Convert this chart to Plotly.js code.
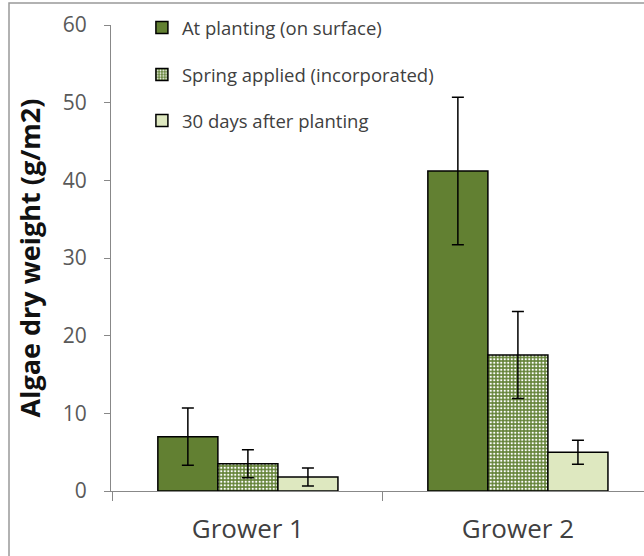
<!DOCTYPE html>
<html>
<head>
<meta charset="utf-8">
<script src="https://cdn.plot.ly/plotly-3.0.1.min.js"></script>
<style>html,body{margin:0;padding:0;background:#fff;}#chart{width:644px;height:556px;}</style>
</head>
<body>
<div id="chart"></div>
<script>
const categories = ["Grower 1", "Grower 2"];
const seriesNames = ["At planting (on surface)", "Spring applied (incorporated)", "30 days after planting"];
const atPlanting = [7.0, 41.2];
const atPlantingErr = [3.7, 9.5];
const springApplied = [3.5, 17.5];
const springAppliedErr = [1.8, 5.6];
const days30 = [1.8, 5.0];
const days30Err = [1.15, 1.55];
const yTicks = [0, 10, 20, 30, 40, 50, 60];

const darkGreen = "rgb(98,128,50)";
const patternGreen = "rgb(100,130,56)";
const lightGreen = "rgb(222,232,192)";
const font = "Open Sans, Noto Sans, sans-serif";

function errBar(arr) {
  return {type: "data", array: arr, visible: true, color: "#000", thickness: 1.5, width: 6};
}

const traces = [
  {type: "bar", name: seriesNames[0], x: categories, y: atPlanting, error_y: errBar(atPlantingErr),
   marker: {color: darkGreen, line: {color: "#000", width: 1.5}}, legend: "legend"},
  {type: "bar", name: seriesNames[1], x: categories, y: springApplied, error_y: errBar(springAppliedErr),
   marker: {color: patternGreen, line: {color: "#000", width: 1.5},
            pattern: {shape: ".", fgcolor: "#ffffff", bgcolor: patternGreen, size: 3.5, solidity: 0.35, fillmode: "replace"}},
   legend: "legend2"},
  {type: "bar", name: seriesNames[2], x: categories, y: days30, error_y: errBar(days30Err),
   marker: {color: lightGreen, line: {color: "#000", width: 1.5}}, legend: "legend3"}
];

const legendBase = {
  x: 0.058, xanchor: "left", yanchor: "middle",
  bgcolor: "rgba(0,0,0,0)", borderwidth: 0,
  font: {family: font, size: 18.5, color: "#404040"},
  itemwidth: 30
};
function py(p) { return (491 - p) / 466; }

const layout = {
  width: 644, height: 556,
  margin: {l: 111, r: 0, t: 25, b: 65},
  paper_bgcolor: "#ffffff", plot_bgcolor: "#ffffff",
  barmode: "group", bargap: 0.333, bargroupgap: 0,
  showlegend: true,
  legend: Object.assign({}, legendBase, {y: py(28)}),
  legend2: Object.assign({}, legendBase, {y: py(75)}),
  legend3: Object.assign({}, legendBase, {y: py(121)}),
  xaxis: {
    type: "category", range: [-0.507, 1.467],
    showline: true, linecolor: "#888", linewidth: 1,
    ticks: "outside", tickson: "boundaries", ticklen: 9, tickcolor: "#888",
    tickfont: {family: font, size: 26, color: "#404040"},
    ticklabelstandoff: 15,
    showgrid: false, zeroline: false
  },
  yaxis: {
    range: [0, 60], tickvals: yTicks,
    showline: true, linecolor: "#888", linewidth: 1,
    ticks: "outside", ticklen: 6, tickcolor: "#888",
    tickfont: {family: font, size: 21, color: "#595959"},
    ticklabelstandoff: 13,
    showgrid: false, zeroline: false,
    title: {text: "Algae dry weight (g/m2)", font: {family: font, size: 27, color: "#111", weight: "bold"}, standoff: 14}
  },
  shapes: [
    {type: "rect", xref: "paper", yref: "paper",
     x0: (9 - 111) / 533, x1: 1.1, y0: -0.3, y1: py(3),
     line: {color: "#999", width: 1.5}, fillcolor: "rgba(0,0,0,0)", layer: "below"}
  ]
};

Plotly.newPlot("chart", traces, layout, {staticPlot: true, displayModeBar: false});
</script>
</body>
</html>
